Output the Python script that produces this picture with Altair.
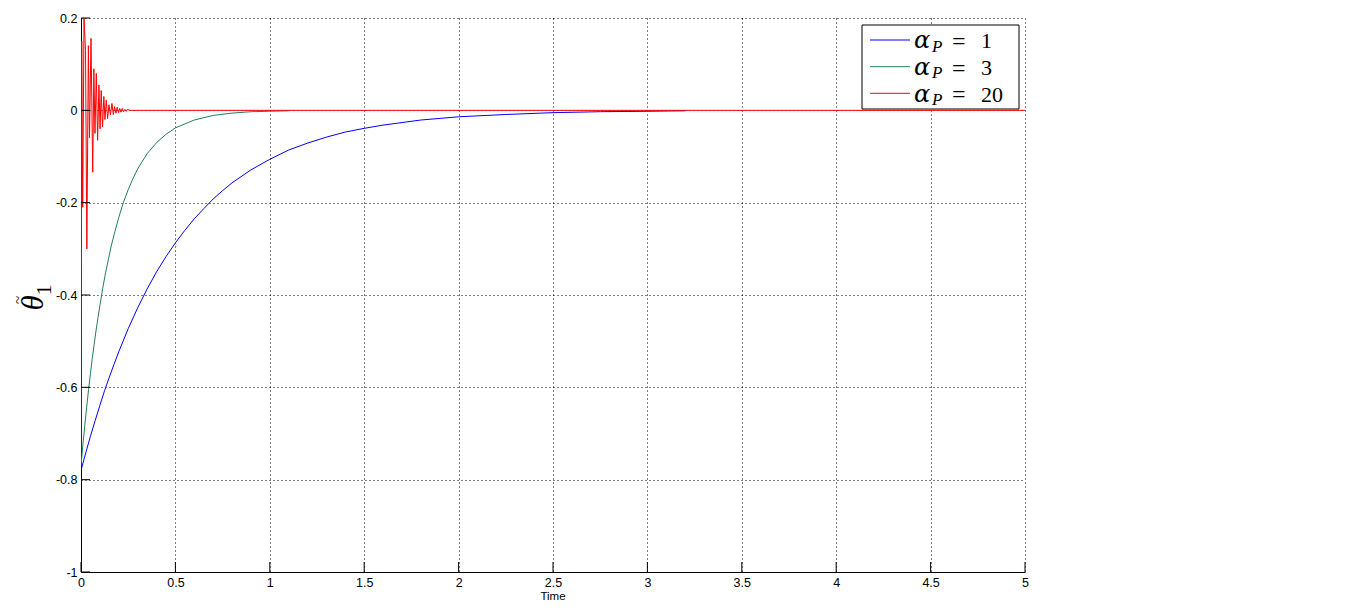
import altair as alt
import pandas as pd

# ---- data ----
t_blue = [0, 0.025, 0.05, 0.075, 0.1, 0.125, 0.15, 0.175, 0.2, 0.25, 0.3, 0.35, 0.4,
          0.45, 0.5, 0.55, 0.6, 0.65, 0.7, 0.75, 0.8, 0.9, 1.0, 1.1, 1.2, 1.3, 1.4,
          1.5, 1.6, 1.8, 2.0, 2.25, 2.5, 2.75, 3.0, 3.2]
v_blue = [-0.78, -0.742, -0.706, -0.672, -0.639, -0.607, -0.578, -0.55, -0.523,
          -0.473, -0.428, -0.387, -0.35, -0.317, -0.287, -0.26, -0.235, -0.213,
          -0.192, -0.174, -0.157, -0.129, -0.106, -0.086, -0.071, -0.058, -0.047,
          -0.039, -0.032, -0.021, -0.014, -0.009, -0.005, -0.003, -0.002, -0.001]

t_green = [0, 0.01, 0.02, 0.03, 0.04, 0.05, 0.06, 0.07, 0.08, 0.09, 0.1, 0.115, 0.13,
           0.145, 0.16, 0.18, 0.2, 0.225, 0.25, 0.275, 0.3, 0.35, 0.4, 0.45, 0.5,
           0.6, 0.7, 0.8, 0.9, 1.0, 1.1]
v_green = [-0.77, -0.725, -0.683, -0.643, -0.605, -0.57, -0.537, -0.506, -0.476,
           -0.449, -0.423, -0.386, -0.352, -0.323, -0.294, -0.262, -0.232, -0.199,
           -0.172, -0.148, -0.127, -0.094, -0.07, -0.052, -0.038, -0.021, -0.011,
           -0.006, -0.003, -0.002, -0.001]

t_red = [0, 0.004, 0.009, 0.016, 0.024, 0.031, 0.039, 0.045, 0.053, 0.062, 0.068,
         0.074, 0.081, 0.088, 0.095, 0.101, 0.107, 0.114, 0.121, 0.127, 0.134, 0.141,
         0.148, 0.156, 0.164, 0.171, 0.178, 0.185, 0.192, 0.199, 0.205, 0.212, 0.218,
         0.225, 0.232, 0.24, 0.245, 0.26, 0.28, 5.0]
v_red = [-0.75, 0.15, -0.21, 0.20, 0.13, -0.30, 0.14, -0.06, 0.156, -0.134, 0.09,
         -0.05, 0.08, -0.065, 0.055, -0.04, 0.043, -0.036, 0.03, -0.02, 0.022, -0.018,
         0.012, -0.01, 0.015, -0.009, 0.008, -0.006, 0.007, -0.005, 0.004, -0.004,
         0.004, -0.003, 0.002, -0.002, 0.002, 0.0, 0.0, 0.0]

x_ticks = [0, 0.5, 1, 1.5, 2, 2.5, 3, 3.5, 4, 4.5, 5]
y_ticks = [-1, -0.8, -0.6, -0.4, -0.2, 0, 0.2]

series_names = ["1", "3", "20"]
series_colors = ["#0000ff", "#23805a", "#ff0000"]
x_title = "Time"

W, H = 944, 554
FONT = "Liberation Sans"
SERIF = "Liberation Serif"

xs = alt.Scale(domain=[0, 5], nice=False, zero=False)
ys = alt.Scale(domain=[-1, 0.2], nice=False, zero=False)

xaxis = alt.Axis(values=x_ticks, labelExpr="datum.value + ''", grid=True,
                 gridDash=[1, 3], gridColor="black", gridOpacity=1, ticks=False,
                 domainColor="black", labelFont=FONT, labelFontSize=12.5,
                 labelColor="black", labelPadding=4, labelFlush=False,
                 labelOverlap=False, title=None)
yaxis = alt.Axis(values=y_ticks, labelExpr="datum.value + ''", grid=True,
                 gridDash=[1, 3], gridColor="black", gridOpacity=1, ticks=False,
                 domainColor="black", labelFont=FONT, labelFontSize=12.5,
                 labelColor="black", labelPadding=4, labelFlush=False,
                 labelOverlap=False, title=None)

X = alt.X("t:Q", scale=xs, axis=xaxis)
Y = alt.Y("v:Q", scale=ys, axis=yaxis)

layers = []
for tt, vv, col in [(t_blue, v_blue, series_colors[0]),
                    (t_green, v_green, series_colors[1]),
                    (t_red, v_red, series_colors[2])]:
    df = pd.DataFrame({"t": tt, "v": vv})
    layers.append(alt.Chart(df).mark_line(color=col, strokeWidth=1, clip=True)
                  .encode(x=X, y=Y))

# inward ticks
xt = pd.DataFrame({"t": x_ticks})
layers.append(alt.Chart(xt).mark_rule(color="black", strokeWidth=1)
              .encode(x=X, y=alt.value(H), y2=alt.value(H - 10)))
yt = pd.DataFrame({"v": y_ticks})
layers.append(alt.Chart(yt).mark_rule(color="black", strokeWidth=1)
              .encode(y=Y, x=alt.value(0), x2=alt.value(9)))

one = pd.DataFrame({"k": [0]})

# x-axis title
layers.append(alt.Chart(one).mark_text(text=x_title, font=FONT, fontSize=11.5,
              align="center", baseline="alphabetic", color="black")
              .encode(x=alt.value(W / 2), y=alt.value(H + 27.5)))

# y-axis label  theta-tilde subscript 1
layers.append(alt.Chart(one).mark_text(text="θ", font=SERIF, fontStyle="italic",
              fontSize=31, angle=270, align="center", baseline="middle", color="black")
              .encode(x=alt.value(-47), y=alt.value(285)))
layers.append(alt.Chart(one).mark_text(text="~", font=SERIF, fontSize=15, angle=270,
              align="center", baseline="middle", color="black")
              .encode(x=alt.value(-63), y=alt.value(282)))
layers.append(alt.Chart(one).mark_text(text="1", font=SERIF, fontSize=22, angle=270,
              align="center", baseline="middle", color="black")
              .encode(x=alt.value(-37), y=alt.value(272)))

# legend
layers.append(alt.Chart(one).mark_rect(fill="white", stroke="black", strokeWidth=1)
              .encode(x=alt.value(781), x2=alt.value(938), y=alt.value(7), y2=alt.value(91)))
row_y = [22, 48.7, 75.3]
for name, col, ry in zip(series_names, series_colors, row_y):
    layers.append(alt.Chart(one).mark_rule(color=col, strokeWidth=1)
                  .encode(x=alt.value(789), x2=alt.value(829), y=alt.value(ry)))
    layers.append(alt.Chart(one).mark_text(text="α", font="DejaVu Serif", fontStyle="italic",
                  fontSize=24, align="left", baseline="alphabetic", color="black")
                  .encode(x=alt.value(833), y=alt.value(ry + 8.3)))
    layers.append(alt.Chart(one).mark_text(text="P", font=SERIF, fontStyle="italic",
                  fontSize=17, align="left", baseline="alphabetic", color="black")
                  .encode(x=alt.value(851), y=alt.value(ry + 11.7)))
    layers.append(alt.Chart(one).mark_text(text="=", font=SERIF, fontSize=24,
                  align="left", baseline="alphabetic", color="black")
                  .encode(x=alt.value(871), y=alt.value(ry + 9)))
    layers.append(alt.Chart(one).mark_text(text=name, font=SERIF, fontSize=22,
                  align="left", baseline="alphabetic", color="black")
                  .encode(x=alt.value(900), y=alt.value(ry + 8.3)))

chart = alt.layer(*layers).properties(
    width=W, height=H,
    autosize=alt.AutoSizeParams(type="none"),
    padding={"left": 73, "top": 10, "right": 333, "bottom": 30},
    background="white",
).configure_view(stroke="transparent")

chart.save("out.html", embed_options={"renderer": "svg", "actions": False})
